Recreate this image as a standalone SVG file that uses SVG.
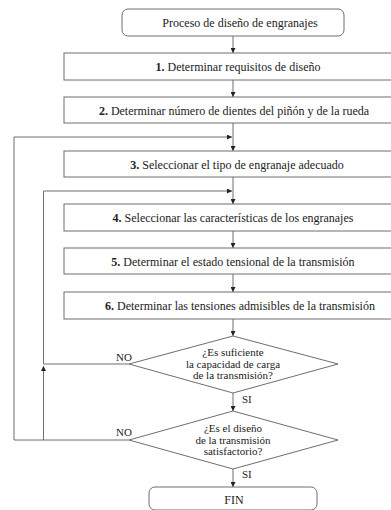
<svg xmlns="http://www.w3.org/2000/svg" width="391" height="510" viewBox="0 0 391 510">
<defs>
<style>
.n{fill:#fff;stroke:#6e6e6e;stroke-width:1}
.t{font-family:"Liberation Serif","Times New Roman",serif;font-size:12px;fill:#222;text-anchor:middle}
.d{font-family:"Liberation Serif","Times New Roman",serif;font-size:11px;fill:#222;text-anchor:middle}
.l{font-family:"Liberation Serif","Times New Roman",serif;font-size:11px;fill:#222}
.c{fill:none;stroke:#6e6e6e;stroke-width:1}
</style>
<marker id="a" viewBox="0 0 10 10" refX="10" refY="5" markerWidth="5" markerHeight="5" orient="auto" markerUnits="userSpaceOnUse"><path d="M0,0 L10,5 L0,10 z" fill="#222"/></marker>
</defs>
<rect width="391" height="510" fill="#fff"/>
<g id="connectors">
<line class="c" x1="233" y1="36" x2="233" y2="53" marker-end="url(#a)"/>
<line class="c" x1="233" y1="80" x2="233" y2="97" marker-end="url(#a)"/>
<line class="c" x1="233" y1="123" x2="233" y2="151" marker-end="url(#a)"/>
<line class="c" x1="233" y1="177" x2="233" y2="204" marker-end="url(#a)"/>
<line class="c" x1="233" y1="231" x2="233" y2="248" marker-end="url(#a)"/>
<line class="c" x1="233" y1="274" x2="233" y2="292" marker-end="url(#a)"/>
<line class="c" x1="233" y1="319" x2="233" y2="336" marker-end="url(#a)"/>
<line class="c" x1="233" y1="393" x2="233" y2="411" marker-end="url(#a)"/>
<line class="c" x1="233" y1="469" x2="233" y2="487" marker-end="url(#a)"/>
<polyline class="c" points="129,440 14,440 14,137 232,137" marker-end="url(#a)"/>
<line class="c" x1="43.5" y1="440" x2="43.5" y2="366" marker-end="url(#a)"/>
<polyline class="c" points="129,364 43.5,364 43.5,191 232,191" marker-end="url(#a)"/>
</g>
<g id="start">
<rect class="n" x="122" y="9" width="222" height="27" rx="6"/>
<text class="t" x="240" y="27">Proceso de diseño de engranajes</text>
</g>
<g id="step1">
<rect class="n" x="64" y="53" width="335" height="27"/>
<text class="t" x="238" y="71"><tspan font-weight="bold">1.</tspan> Determinar requisitos de diseño</text>
</g>
<g id="step2">
<rect class="n" x="64" y="97" width="335" height="26"/>
<text class="t" x="234" y="114.5"><tspan font-weight="bold">2.</tspan> Determinar número de dientes del piñón y de la rueda</text>
</g>
<g id="step3">
<rect class="n" x="64" y="151" width="335" height="26"/>
<text class="t" x="237" y="168.5"><tspan font-weight="bold">3.</tspan> Seleccionar el tipo de engranaje adecuado</text>
</g>
<g id="step4">
<rect class="n" x="64" y="204" width="335" height="27"/>
<text class="t" x="233" y="221.5"><tspan font-weight="bold">4.</tspan> Seleccionar las características de los engranajes</text>
</g>
<g id="step5">
<rect class="n" x="64" y="248" width="335" height="26"/>
<text class="t" x="233" y="265.5"><tspan font-weight="bold">5.</tspan> Determinar el estado tensional de la transmisión</text>
</g>
<g id="step6">
<rect class="n" x="64" y="292" width="335" height="27"/>
<text class="t" x="240" y="309.5"><tspan font-weight="bold">6.</tspan> Determinar las tensiones admisibles de la transmisión</text>
</g>
<g id="decision1">
<polygon class="n" points="233,336 338,364 233,393 129,364"/>
<text class="d" x="233" y="356">¿Es suficiente</text>
<text class="d" x="233" y="367.5">la capacidad de carga</text>
<text class="d" x="233" y="379">de la transmisión?</text>
<text class="l" x="116" y="361">NO</text>
<text class="l" x="242" y="403">SI</text>
</g>
<g id="decision2">
<polygon class="n" points="233,411 338,440 233,469 129,440"/>
<text class="d" x="233" y="432">¿Es el diseño</text>
<text class="d" x="233" y="443.5">de la transmisión</text>
<text class="d" x="233" y="455">satisfactorio?</text>
<text class="l" x="116" y="436">NO</text>
<text class="l" x="242" y="478">SI</text>
</g>
<g id="end">
<rect class="n" x="149" y="487" width="168" height="23" rx="6"/>
<text class="t" x="234" y="504">FIN</text>
</g>
</svg>
